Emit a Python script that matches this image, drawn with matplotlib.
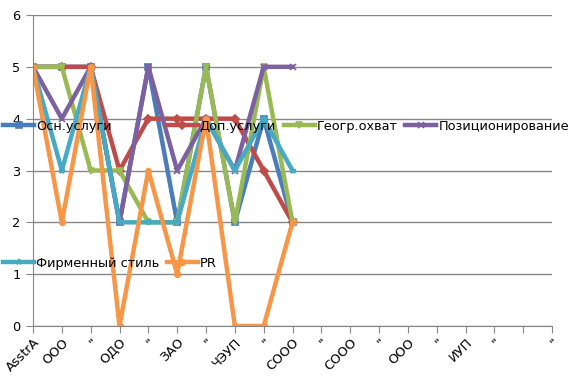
import matplotlib.pyplot as plt

categories = ["AsstrA", "ООО", "\"", "ОДО", "\"", "ЗАО", "\"", "ЧЭУП", "\"", "СООО",
              "\"", "СООО", "\"", "ООО", "\"", "ИУП", "\"", "", "\""]

osn_uslugi = [5, 5, 5, 2, 5, 2, 5, 2, 4, 2]
dop_uslugi = [5, 5, 5, 3, 4, 4, 4, 4, 3, 2]
geogr_ohvat = [5, 5, 3, 3, 2, 2, 5, 2, 5, 2]
pozicionirovanie = [5, 4, 5, 2, 5, 3, 4, 3, 5, 5]
firm_stil = [5, 3, 5, 2, 2, 2, 4, 3, 4, 3]
pr = [5, 2, 5, 0, 3, 1, 4, 0, 0, 2]

series = [
    ("Осн.услуги", osn_uslugi, "#4A7EBB", "s"),
    ("Доп.услуги", dop_uslugi, "#BE4B48", "D"),
    ("Геогр.охват", geogr_ohvat, "#98B954", "v"),
    ("Позиционирование", pozicionirovanie, "#7D60A0", "x"),
    ("Фирменный стиль", firm_stil, "#46AAC5", "*"),
    ("PR", pr, "#F79646", "o"),
]

plt.rcParams['font.family'] = ['DejaVu Sans']
grid_col = "#868686"

fig = plt.figure(figsize=(5.8, 3.88), dpi=100)
ax = fig.add_axes([33 / 580, 62 / 388, 519 / 580, 311 / 388])

lines = {}
for name, vals, col, mk in series:
    ln, = ax.plot(range(len(vals)), vals, color=col, lw=3.2, marker=mk,
                  markersize=4, markeredgewidth=1.2, label=name)
    lines[name] = ln

ax.set_xlim(0, len(categories) - 1)
ax.set_ylim(0, 6)
ax.set_yticks(range(7))
ax.set_xticks(range(len(categories)))
ax.set_xticklabels(categories, rotation=45, ha="right", rotation_mode="anchor", fontsize=9.3)
ax.tick_params(axis="y", labelsize=9.3, length=5, color=grid_col, pad=4)
ax.tick_params(axis="x", length=5, color=grid_col, pad=2)
ax.yaxis.grid(True, color=grid_col, lw=1)
ax.set_axisbelow(True)
for s in ["top", "right"]:
    ax.spines[s].set_visible(False)
for s in ["left", "bottom"]:
    ax.spines[s].set_color(grid_col)

# Excel-like legend: two rows spread far apart over the plot
order = ["Осн.услуги", "Фирменный стиль", "Доп.услуги", "PR", "Геогр.охват", "Позиционирование"]
fig.legend([lines[n] for n in order], order, ncol=4, loc="upper left",
           bbox_to_anchor=(3 / 580, 1 - 120 / 388), frameon=False, fontsize=9.3,
           handlelength=2.4, handletextpad=0.15, columnspacing=0.6,
           labelspacing=9.6, borderpad=0, borderaxespad=0)

fig.savefig("out.png", dpi=100)
